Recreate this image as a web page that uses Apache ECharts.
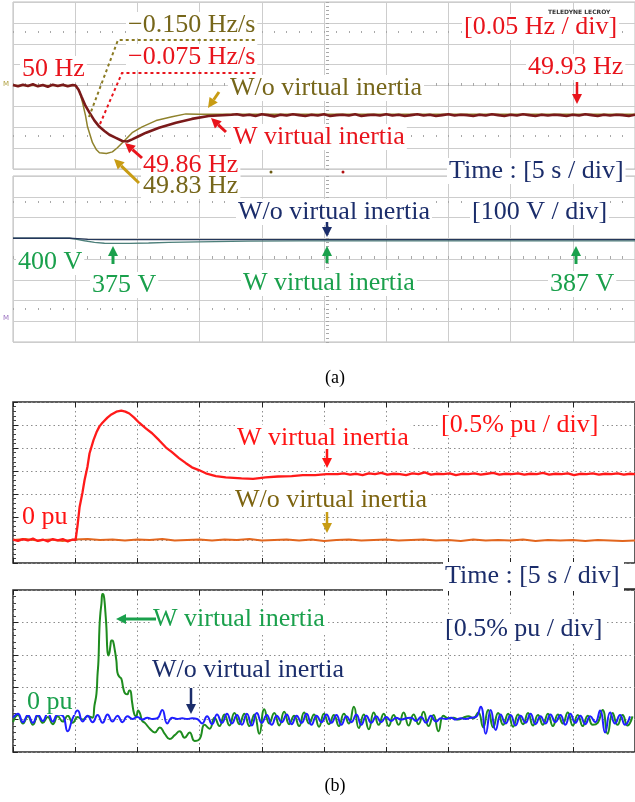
<!DOCTYPE html>
<html><head><meta charset="utf-8">
<script src="https://cdn.jsdelivr.net/npm/echarts/dist/echarts.min.js"></script>
<style>html,body{margin:0;padding:0;background:#fff;}#c{width:635px;height:802px;}</style>
</head><body><div id="c"></div>
<script>
// ---------- DATA ----------
// Panel (a) upper: grid frequency [time s, Hz]
const freqWithout = [[0,50.0],[5.03,50.0],[5.35,49.986],[5.59,49.959],[5.83,49.928],[5.99,49.901],[6.39,49.863],[6.71,49.846],[6.95,49.839],[7.51,49.837],[7.99,49.841],[8.39,49.851],[8.79,49.863],[9.58,49.887],[10.38,49.901],[11.5,49.916],[12.78,49.925],[13.9,49.932],[14.94,49.931],[20,49.931],[30,49.931],[40,49.931],[50,49.931]];
const freqWith = [[0,50.001],[0.4,49.998],[0.8,50.002],[1.2,49.999],[1.6,50.003],[2.0,49.998],[2.4,50.001],[2.8,49.997],[3.2,50.002],[3.6,49.999],[4.0,50.002],[4.4,49.998],[4.8,50.001],[5.03,50.0],
[5.27,49.990],[5.51,49.973],[5.83,49.951],[6.15,49.935],[6.55,49.916],[6.95,49.901],[7.35,49.891],[7.75,49.882],[8.23,49.875],[8.79,49.867],[9.19,49.866],[9.58,49.871],[10.14,49.879],[10.7,49.887],[11.74,49.899],[13.1,49.911],[14.38,49.920],[15.73,49.927],[17.57,49.930],
[18,49.931],[18.5,49.928],[19,49.930],[19.5,49.927],[20,49.931],[20.5,49.929],[21,49.926],[21.5,49.930],[22,49.928],[22.5,49.931],[23,49.929],[23.5,49.927],[24,49.930],[24.5,49.928],[25,49.931],[25.5,49.927],[26,49.929],[26.5,49.930],[27,49.928],[27.5,49.931],[28,49.927],[28.5,49.929],[29,49.930],[29.5,49.928],[30,49.931],[30.5,49.928],[31,49.930],[31.5,49.927],[32,49.929],[32.5,49.931],[33,49.928],[33.5,49.930],[34,49.927],[34.5,49.929],[35,49.931],[35.5,49.928],[36,49.930],[36.5,49.929],[37,49.927],[37.5,49.930],[38,49.928],[38.5,49.931],[39,49.929],[39.5,49.927],[40,49.930],[40.5,49.928],[41,49.931],[41.5,49.929],[42,49.927],[42.5,49.930],[43,49.928],[43.5,49.930],[44,49.929],[44.5,49.927],[45,49.930],[45.5,49.928],[46,49.931],[46.5,49.929],[47,49.927],[47.5,49.930],[48,49.928],[48.5,49.930],[49,49.929],[49.5,49.927],[50,49.930]];
// Panel (a) lower: DC voltage [time s, V]
const voltWithout = [[0,400],[4.55,400],[5.2,398],[6,395],[7,393],[50,393]];
const voltWith = [[0,400],[4.55,400],[5.03,396],[5.75,388],[6.55,380],[7.35,376],[8.15,375],[9.35,375],[10.9,377],[12.5,380],[14.9,383],[18.9,386],[23,387],[50,387]];
// Panel (b) upper: power [time s, % pu]
const powWithout = [[0,0.00],[1,0.02],[2,-0.01],[3,0.01],[4,-0.02],[5,0.01],[6,0.02],[7,0.00],[8,0.01],[9,-0.01],[10,0.01],[11,0.00],[12,0.02],[13,-0.01],[14,0.00],[15,0.01],[16,-0.01],[17,0.01],[18,0.00],[19,0.02],[20,-0.01],[21,0.00],[22,0.01],[23,-0.01],[24,0.01],[25,-0.02],[26,0.00],[27,0.01],[28,-0.01],[29,0.00],[30,0.01],[31,-0.01],[32,0.00],[33,0.01],[34,-0.01],[35,0.00],[36,-0.02],[37,0.01],[38,-0.01],[39,0.00],[40,-0.01],[41,0.01],[42,-0.02],[43,0.00],[44,-0.01],[45,0.00],[46,-0.02],[47,0.00],[48,-0.01],[49,-0.02],[50,-0.01]];
const powWith = [[0,0.01],[0.4,-0.02],[0.8,0.02],[1.2,-0.01],[1.6,0.03],[2.0,-0.02],[2.4,0.01],[2.8,-0.03],[3.2,0.02],[3.6,-0.01],[4.0,0.02],[4.4,-0.03],[4.8,0.01],[5.03,0.0],
[5.19,0.32],[5.35,0.71],[5.59,1.04],[5.75,1.30],[5.99,1.60],[6.15,1.88],[6.47,2.17],[6.71,2.34],[6.95,2.47],[7.19,2.55],[7.59,2.66],[7.91,2.73],[8.31,2.79],[8.71,2.81],[9.03,2.79],[9.35,2.75],[9.74,2.66],[10.14,2.55],[10.7,2.42],[11.18,2.32],[11.74,2.17],[12.3,2.01],[12.78,1.91],[13.34,1.78],[13.9,1.67],[14.38,1.58],[14.94,1.52],[15.5,1.45],[16.3,1.39],[17.1,1.36],[18.37,1.34],[19.3,1.33],[20.3,1.36],[21.3,1.38],[22.4,1.39],[23.3,1.41],[24.3,1.41],[25.2,1.43],[26.1,1.43],
[26.6,1.45],[27.1,1.42],[27.6,1.44],[28.1,1.41],[28.6,1.45],[29.1,1.43],[29.6,1.46],[30.1,1.42],[30.6,1.44],[31.1,1.43],[31.6,1.41],[32.1,1.45],[32.6,1.43],[33.1,1.47],[33.6,1.42],[34.1,1.44],[34.6,1.43],[35.1,1.45],[35.6,1.41],[36.1,1.44],[36.6,1.43],[37.1,1.45],[37.6,1.42],[38.1,1.44],[38.6,1.46],[39.1,1.42],[39.6,1.44],[40.1,1.43],[40.6,1.45],[41.1,1.42],[41.6,1.44],[42.1,1.43],[42.6,1.46],[43.1,1.42],[43.6,1.44],[44.1,1.43],[44.6,1.45],[45.1,1.41],[45.6,1.44],[46.1,1.43],[46.6,1.45],[47.1,1.42],[47.6,1.44],[48.1,1.43],[48.6,1.45],[49.1,1.42],[49.6,1.44],[50,1.43]];
// Panel (b) lower: power [% pu], sampled every 0.4 s
const sampleStep = 0.4;
const blueWithout = [0.03,0.09,-0.04,0.07,-0.05,0.08,-0.02,0.10,-0.03,0.08,0.06,-0.18,0.02,0.14,-0.03,0.06,
-0.04,0.07,-0.05,0.08,-0.03,0.06,-0.04,0.05,0.01,0.04,0.00,0.03,0.01,0.02,0.15,-0.06,
0.03,0.01,0.02,0.01,0.02,0.01,-0.06,0.05,-0.07,0.08,-0.05,0.09,-0.06,0.07,-0.08,0.09,
-0.09,0.10,-0.05,0.07,-0.08,0.06,-0.04,0.08,-0.07,0.06,-0.05,0.09,-0.08,0.06,-0.04,0.08,
-0.05,0.07,-0.08,0.05,-0.04,0.08,-0.08,0.06,-0.05,0.05,-0.04,0.04,-0.02,0.03,0.00,0.02,
0.03,-0.02,0.04,-0.05,0.06,-0.03,0.02,0.01,0.03,0.00,0.02,0.01,0.03,0.04,0.20,-0.22,
0.15,-0.16,0.08,-0.06,0.07,-0.09,0.06,-0.05,0.09,-0.07,0.05,-0.06,0.08,-0.04,0.07,-0.08,
0.09,-0.05,0.06,-0.07,0.05,-0.04,0.14,-0.20,0.11,-0.06,0.07,-0.08,0.05];
const greenWithPre = [-0.04,0.07,-0.06,0.05,-0.08,0.06,-0.05,0.04,-0.07,0.05,-0.03,0.06,-0.05,0.04,0.00,0.05];
const greenWithPulse = [[6.39,0.03],[6.55,0.22],[6.71,0.40],[6.79,0.68],[6.87,0.91],[6.95,1.42],[7.03,1.65],[7.11,1.79],[7.19,1.94],[7.27,1.93],[7.35,1.84],[7.43,1.65],[7.51,1.42],[7.59,1.06],[7.67,0.99],[7.75,1.03],[7.83,1.14],[7.91,1.22],[7.99,1.22],[8.07,1.19],[8.15,1.11],[8.31,0.91],[8.39,0.73],[8.55,0.66],[8.71,0.63],[8.87,0.48],[9.03,0.40],[9.19,0.39],[9.35,0.45],[9.42,0.45],[9.58,0.26],[9.74,0.09],[9.9,0.05],[10.06,0.14],[10.22,0.09],[10.38,-0.02]];
const greenPostStart = 10.6;
const greenWithPost = [-0.05,-0.14,-0.20,-0.12,-0.22,-0.30,-0.24,-0.18,-0.28,-0.20,-0.33,-0.30,-0.08,-0.14,0.03,-0.10,
0.08,-0.09,0.10,-0.07,0.09,-0.10,0.08,-0.22,0.16,-0.06,0.10,-0.09,0.12,-0.07,0.06,-0.10,
0.11,-0.06,0.08,-0.11,0.09,-0.07,0.07,-0.10,0.09,-0.06,0.20,-0.13,0.08,-0.15,0.11,-0.08,
0.09,-0.10,0.07,-0.08,0.11,-0.09,0.08,-0.07,0.12,-0.10,0.07,-0.18,0.06,0.02,0.03,0.00,
0.03,0.05,0.02,0.11,-0.12,0.15,-0.12,0.10,-0.08,0.09,-0.11,0.08,-0.07,0.10,-0.09,0.07,
-0.08,0.09,-0.10,0.08,-0.06,0.11,-0.09,0.07,-0.10,0.06,-0.08,-0.05,0.15,-0.22,0.10,-0.08,
0.07,-0.09,0.05];
// Axis settings
const timeRange = [0, 50], timeDiv = 5;
const freqRange = [49.8, 50.2], freqDiv = 0.05;
const voltRange = [-100, 700], voltDiv = 100;
const powTopRange = [-0.5, 3.0], powBotRange = [-0.5, 2.0], powDiv = 0.5;

// ---------- BUILD ----------
const blueSeries = blueWithout.map((v, i) => [+(i * sampleStep).toFixed(2), v]);
const greenSeries = greenWithPre.map((v, i) => [+(i * sampleStep).toFixed(2), v])
  .concat(greenWithPulse)
  .concat(greenWithPost.map((v, i) => [+(greenPostStart + i * sampleStep).toFixed(2), v]));

const FONT = '"Liberation Serif","Times New Roman",serif';
const C = {red:'#e8141c', olive:'#76661a', navy:'#1b2d6b', green:'#1aa04c', bred:'#ff1414', gold:'#c89c14'};

const chart = echarts.init(document.getElementById('c'), null, {renderer:'canvas', width:635, height:802});

const grids = [
  {left:13, top:2, width:626, height:167, show:true, borderColor:'#bdbdbd', borderWidth:1},
  {left:13, top:176, width:626, height:166, show:true, borderColor:'#bdbdbd', borderWidth:1},
  {left:13, top:402, width:626, height:161, show:true, borderColor:'#2a2a2a', borderWidth:1.5},
  {left:13, top:590, width:626, height:162, show:true, borderColor:'#2a2a2a', borderWidth:1.5}
];
function X(g, extra) {
  return Object.assign({type:'value', gridIndex:g, min:timeRange[0], max:timeRange[1], interval:timeDiv,
    axisLabel:{show:false}, axisLine:{show:false, onZero:false}, axisTick:{show:false}, splitLine:{show:false}}, extra || {});
}
function Y(g, r, d, extra) {
  return Object.assign({type:'value', gridIndex:g, min:r[0], max:r[1], interval:d,
    axisLabel:{show:false}, axisLine:{show:false, onZero:false}, axisTick:{show:false}, splitLine:{show:false}}, extra || {});
}
const scopeSplit = {show:true, lineStyle:{color:'#cdcdcd', width:1}};
const dotSplit = {show:true, lineStyle:{color:'#8c8c8c', width:1, type:[1.5,3]}};
const dotTicks = (len) => ({axisTick:{show:true, inside:true, length:len, lineStyle:{color:'#a8a8a8', width:1}},
  minorTick:{show:true, splitNumber:5, length:len, lineStyle:{color:'#a8a8a8', width:1}}});

const xAxes = [
  X(0, {splitLine:scopeSplit}),
  X(1, {splitLine:scopeSplit}),
  X(2, {splitLine:dotSplit, axisTick:{show:true, inside:true, length:5, lineStyle:{color:'#222'}}}),
  X(3, {splitLine:dotSplit, axisTick:{show:true, inside:true, length:5, lineStyle:{color:'#222'}}}),
  X(2, {position:'top', axisTick:{show:true, inside:true, length:5, lineStyle:{color:'#222'}}}),
  X(3, {position:'top', axisTick:{show:true, inside:true, length:5, lineStyle:{color:'#222'}}}),
  X(0, Object.assign({position:'bottom', offset:-83}, dotTicks(3))),
  X(0, Object.assign({position:'bottom', offset:-136}, dotTicks(2))),
  X(0, Object.assign({position:'bottom', offset:-32}, dotTicks(2))),
  X(1, Object.assign({position:'bottom', offset:-83}, dotTicks(3))),
  X(1, Object.assign({position:'bottom', offset:-139}, dotTicks(2))),
  X(1, Object.assign({position:'bottom', offset:-32}, dotTicks(2)))
];
const yAxes = [
  Y(0, freqRange, freqDiv, {splitLine:scopeSplit}),
  Y(1, voltRange, voltDiv, {splitLine:scopeSplit}),
  Y(2, powTopRange, powDiv, {splitLine:dotSplit, axisTick:{show:true, inside:true, length:5, lineStyle:{color:'#222'}},
     minorTick:{show:true, splitNumber:5, length:3, lineStyle:{color:'#444'}}}),
  Y(3, powBotRange, powDiv, {splitLine:dotSplit, axisTick:{show:true, inside:true, length:5, lineStyle:{color:'#222'}},
     minorTick:{show:true, splitNumber:5, length:3, lineStyle:{color:'#444'}}}),
  Y(0, freqRange, freqDiv, Object.assign({position:'left', offset:-313}, dotTicks(3))),
  Y(1, voltRange, voltDiv, Object.assign({position:'left', offset:-313}, dotTicks(3)))
];
const line = (data, xi, yi, color, w, extra) => Object.assign({type:'line', data, xAxisIndex:xi, yAxisIndex:yi,
  showSymbol:false, symbol:'none', animation:false, lineStyle:{color, width:w}}, extra || {});

const series = [
  line(freqWithout, 0, 0, '#8f822c', 1.5),
  line(freqWith, 0, 0, '#7a1a1a', 2.6),
  line(voltWith, 1, 1, '#4d7f7a', 1.3),
  line(voltWithout, 1, 1, '#24375a', 1.3),
  line(powWithout, 2, 2, '#e2661e', 2),
  line(powWith, 2, 2, '#ff1a1a', 2.3),
  line(greenSeries, 3, 3, '#1e8c1e', 2, {smooth:0.5}),
  line(blueSeries, 3, 3, '#1f1fff', 2, {smooth:0.5})
];

// ---------- annotations ----------
const G = [];
function txt(s, x, y, color, size, extra) {
  G.push(Object.assign({type:'text', x, y, z:100, style:{text:s, fill:color, font:(size||26)+'px '+FONT,
    textAlign:'left', textVerticalAlign:'middle', backgroundColor:'#fff', padding:[0,2]}}, extra || {}));
}
function arrow(x1, y1, x2, y2, color, w) {
  const a = Math.atan2(y2 - y1, x2 - x1), L = 10, W = 5;
  const bx = x2 - L * Math.cos(a), by = y2 - L * Math.sin(a);
  const px = -Math.sin(a) * W, py = Math.cos(a) * W;
  G.push({type:'line', z:101, shape:{x1, y1, x2:bx, y2:by}, style:{stroke:color, lineWidth:w || 2.5}});
  G.push({type:'polygon', z:101, shape:{points:[[x2,y2],[bx+px,by+py],[bx-px,by-py]]}, style:{fill:color}});
}
function dashed(points, color) {
  G.push({type:'polyline', z:99, shape:{points}, style:{stroke:color, lineWidth:2, lineDash:[3,3], fill:null}});
}
// panel (a)
txt('\u22120.150 Hz/s', 126, 25, C.olive);
txt('\u22120.075 Hz/s', 126, 57, C.red);
dashed([[89,117],[118,40],[257,40]], '#8a7a22');
dashed([[100,124],[122,73],[257,73]], C.red);
txt('50 Hz', 20, 69, C.red);
txt('W/o virtual inertia', 228, 88, C.olive);
arrow(219, 92, 208, 108, C.gold, 3);
txt('W virtual inertia', 231, 137, C.red);
arrow(226, 132, 211, 118, C.red, 3);
txt('49.86 Hz', 141, 165, C.red);
arrow(142, 158, 125, 143, C.red, 3);
txt('49.83 Hz', 141, 186, C.olive);
arrow(139, 183, 114, 159, C.gold, 3);
txt('[0.05 Hz / div]', 462, 27, C.red);
txt('49.93 Hz', 526, 67, C.red);
arrow(577, 82, 577, 104, C.red, 2.5);
G.push({type:'text', x:548, y:12, z:100, style:{text:'TELEDYNE LECROY', fill:'#333', font:'bold 6px "DejaVu Sans"', textVerticalAlign:'middle'}});
txt('Time : [5 s / div]', 447, 171, C.navy);
G.push({type:'circle', z:100, shape:{cx:271, cy:172, r:1.5}, style:{fill:'#6a5a10'}});
G.push({type:'circle', z:100, shape:{cx:343, cy:172, r:1.5}, style:{fill:'#b01010'}});
txt('W/o virtual inertia', 236, 212, C.navy);
arrow(327, 222, 327, 237, C.navy, 2.5);
txt('[100 V / div]', 470, 212, C.navy);
txt('400 V', 16, 262, C.green);
txt('375 V', 90, 285, C.green);
arrow(113, 264, 113, 246, C.green, 3);
txt('W virtual inertia', 241, 283, C.green);
arrow(327, 263, 327, 246, C.green, 3);
txt('387 V', 548, 284, C.green);
arrow(576, 264, 576, 246, C.green, 3);
G.push({type:'text', x:3, y:84, z:100, style:{text:'M', fill:'#b0a040', font:'7px "DejaVu Sans"', textVerticalAlign:'middle'}});
G.push({type:'text', x:3, y:318, z:100, style:{text:'M', fill:'#9a70c0', font:'7px "DejaVu Sans"', textVerticalAlign:'middle'}});
G.push({type:'text', x:335, y:378, z:100, style:{text:'(a)', fill:'#000', font:'18px '+FONT, textAlign:'center', textVerticalAlign:'middle'}});
// panel (b)
txt('[0.5% pu / div]', 439, 425, C.bred);
txt('W virtual inertia', 235, 438, C.bred);
arrow(327, 449, 327, 468, C.bred, 2.5);
txt('W/o virtual inertia', 233, 500, '#7d6410');
arrow(327, 512, 327, 533, C.gold, 2.5);
txt('0 pu', 20, 517, C.bred);
G.push({type:'rect', z:99, shape:{x:443, y:562, width:181, height:29}, style:{fill:'#fff'}});
txt('Time : [5 s / div]', 443, 576, C.navy);
G.push({type:'line', z:100, shape:{x1:624, y1:589, x2:640, y2:589}, style:{stroke:'#222', lineWidth:1.5}});
txt('W virtual inertia', 151, 619, C.green);
arrow(156, 619, 116, 619, C.green, 3);
txt('[0.5% pu / div]', 443, 629, C.navy);
txt('W/o virtual inertia', 150, 670, C.navy);
arrow(191, 688, 191, 714, C.navy, 2.5);
txt('0 pu', 25, 702, C.green);
G.push({type:'text', x:335, y:786, z:100, style:{text:'(b)', fill:'#000', font:'18px '+FONT, textAlign:'center', textVerticalAlign:'middle'}});

chart.setOption({
  animation:false,
  backgroundColor:'#fff',
  grid:grids, xAxis:xAxes, yAxis:yAxes, series, graphic:G
});
</script></body></html>
